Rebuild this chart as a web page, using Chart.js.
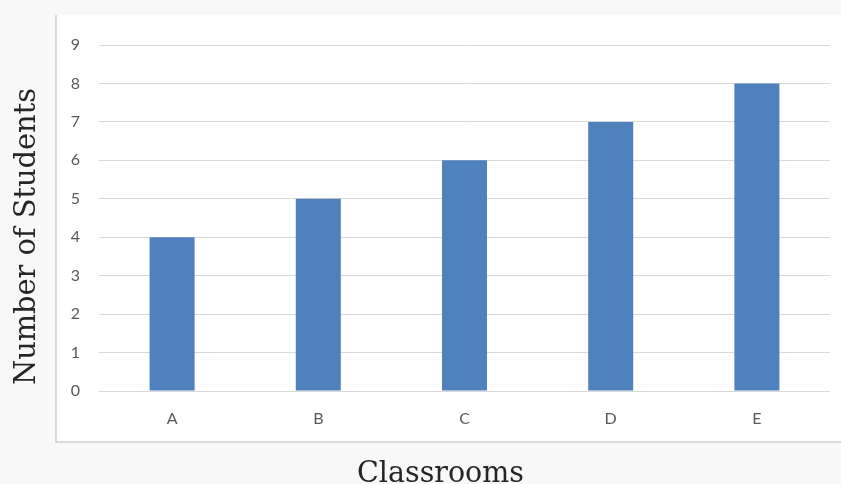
<!DOCTYPE html>
<html>
<head>
<meta charset="utf-8">
<title>Number of Students by Classroom</title>
<script src="https://cdn.jsdelivr.net/npm/chart.js@4/dist/chart.umd.min.js"></script>
<style>
  html, body { margin: 0; padding: 0; background: #f8f8f8; }
  #wrap { position: relative; width: 841px; height: 484px; }
</style>
</head>
<body>
<div id="wrap"><canvas id="chart"></canvas></div>
<script>
// Data
const classrooms = ['A', 'B', 'C', 'D', 'E'];
const studentCounts = [4, 5, 6, 7, 8];
const yTicks = [0, 1, 2, 3, 4, 5, 6, 7, 8, 9];

const xTitle = 'Classrooms';
const yTitle = 'Number of Students';

// White panel behind the plot with a light left/bottom frame
const panel = {
  id: 'panel',
  beforeDraw(chart) {
    const { ctx, chartArea } = chart;
    const left = chartArea.left - 43;
    const top = chartArea.top - 30;
    const bottom = chartArea.bottom + 51;
    ctx.save();
    ctx.fillStyle = '#f8f8f8';
    ctx.fillRect(0, 0, chart.width, chart.height);
    ctx.fillStyle = '#ffffff';
    ctx.fillRect(left, top, chart.width - left, bottom - top);
    ctx.strokeStyle = '#d0d0d0';
    ctx.lineWidth = 1.5;
    ctx.beginPath();
    ctx.moveTo(left, top);
    ctx.lineTo(left, bottom);
    ctx.lineTo(chart.width, bottom);
    ctx.stroke();
    ctx.restore();
  }
};

// Serif axis titles
const axisTitles = {
  id: 'axisTitles',
  afterDraw(chart) {
    const { ctx, chartArea } = chart;
    ctx.save();
    ctx.fillStyle = '#262626';
    ctx.font = '30px "DejaVu Serif", serif';
    ctx.textAlign = 'center';
    ctx.textBaseline = 'alphabetic';
    ctx.fillText(xTitle, chartArea.left + 341.5, chart.height - 2, 167);
    ctx.translate(35, chartArea.top + 191.5);
    ctx.rotate(-Math.PI / 2);
    ctx.fillText(yTitle, 0, 0, 297);
    ctx.restore();
  }
};

new Chart(document.getElementById('chart'), {
  type: 'bar',
  data: {
    labels: classrooms,
    datasets: [{
      label: 'Number of Students',
      data: studentCounts,
      backgroundColor: '#4f81bd',
      borderWidth: 0,
      categoryPercentage: 1,
      barPercentage: 0.308
    }]
  },
  options: {
    responsive: true,
    maintainAspectRatio: false,
    animation: false,
    layout: { padding: { top: 45, right: 11, left: 0, bottom: 0 } },
    plugins: {
      legend: { display: false },
      tooltip: { enabled: false }
    },
    scales: {
      x: {
        grid: { display: false },
        border: { display: false },
        ticks: {
          color: '#595959',
          font: { family: 'Lato, "Open Sans", sans-serif', size: 16 },
          padding: 10
        },
        afterFit(scale) { scale.height = 93; }
      },
      y: {
        min: 0,
        max: 9,
        afterBuildTicks(scale) { scale.ticks = yTicks.map(v => ({ value: v })); },
        grid: { color: '#d9d9d9', lineWidth: 1, drawTicks: false },
        border: { display: false },
        ticks: {
          color: '#595959',
          font: { family: 'Lato, "Open Sans", sans-serif', size: 16 },
          padding: 19
        },
        afterFit(scale) { scale.width = 99; }
      }
    }
  },
  plugins: [panel, axisTitles]
});
</script>
</body>
</html>
